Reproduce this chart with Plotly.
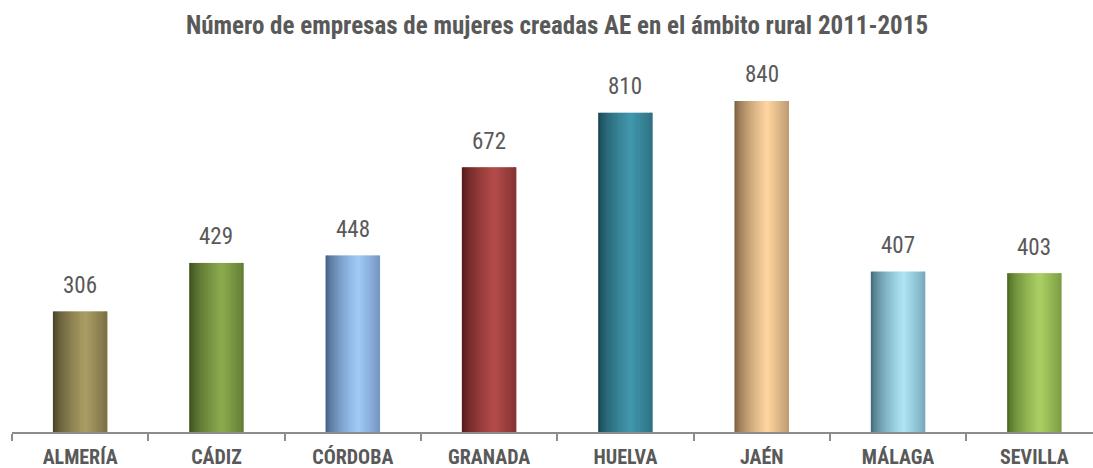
import plotly.graph_objects as go

categories = ["ALMERÍA", "CÁDIZ", "CÓRDOBA", "GRANADA", "HUELVA", "JAÉN", "MÁLAGA", "SEVILLA"]
values = [306, 429, 448, 672, 810, 840, 407, 403]
dark_colors = ["#3e3a22", "#34461a", "#3a5678", "#4a1414", "#163f4c", "#6e5238", "#365e70", "#40601c"]
light_colors = ["#ab9d63", "#8cab4e", "#a2cbfa", "#b44c4a", "#4198ad", "#ffd6a0", "#aee6f6", "#acd064"]
title_text = "Número de empresas de mujeres creadas AE en el ámbito rural 2011-2015"

FONT = "Liberation Sans Narrow, Arial Narrow, Roboto Condensed, Liberation Sans, Arial, sans-serif"
GRAY = "#595959"

def hex2rgb(h):
    h = h.lstrip("#")
    return tuple(int(h[i:i + 2], 16) for i in (0, 2, 4))

def mix(c1, c2, f):
    a, b = hex2rgb(c1), hex2rgb(c2)
    return "rgb(%d,%d,%d)" % tuple(round(a[k] + (b[k] - a[k]) * f) for k in range(3))

def profile(t):
    if t < 0.6:
        return (t / 0.6) ** 0.6
    return 1 - 0.45 * ((t - 0.6) / 0.4)

N = 30
BAR_W = 0.4
w = BAR_W / N
fig = go.Figure()
for i in range(N):
    t = (i + 0.5) / N
    f = profile(t)
    cols = [mix(d, l, f) for d, l in zip(dark_colors, light_colors)]
    fig.add_trace(go.Bar(
        x=categories, y=values,
        offset=-BAR_W / 2 + i * w, width=w * 1.4 if i < N - 1 else w,
        marker=dict(color=cols, line=dict(width=0)),
        hoverinfo="skip", showlegend=False,
    ))

for c, v in zip(categories, values):
    fig.add_annotation(x=c, y=v, text=str(v), showarrow=False, yanchor="middle", yshift=26,
                       font=dict(family=FONT, size=23, color=GRAY))

fig.update_layout(
    width=1093, height=468,
    margin=dict(l=12, r=0, t=60, b=36, autoexpand=False),
    plot_bgcolor="white", paper_bgcolor="white",
    barmode="overlay",
    title=dict(text="<b>" + title_text + "</b>", x=557 / 1093, xref="container", xanchor="center",
               yref="container", y=1 - 25 / 468, yanchor="middle",
               font=dict(family=FONT, size=25, color=GRAY)),
    xaxis=dict(
        automargin=False,
        showline=True, linecolor="#8c8c8c", linewidth=2,
        ticks="outside", tickson="boundaries", ticklen=7, tickcolor="#8c8c8c", tickwidth=2,
        ticklabelstandoff=6,
        tickfont=dict(family=FONT, size=20, color=GRAY),
        showgrid=False, range=[-0.5, 7.43],
        tickvals=categories, ticktext=["<b>" + c + "</b>" for c in categories],
    ),
    yaxis=dict(visible=False, automargin=False, range=[0, 944], showgrid=False, zeroline=False),
)
fig.write_html("out.html", config={"displayModeBar": False},
               post_script="document.body.style.margin='0';document.body.style.overflow='hidden';")
